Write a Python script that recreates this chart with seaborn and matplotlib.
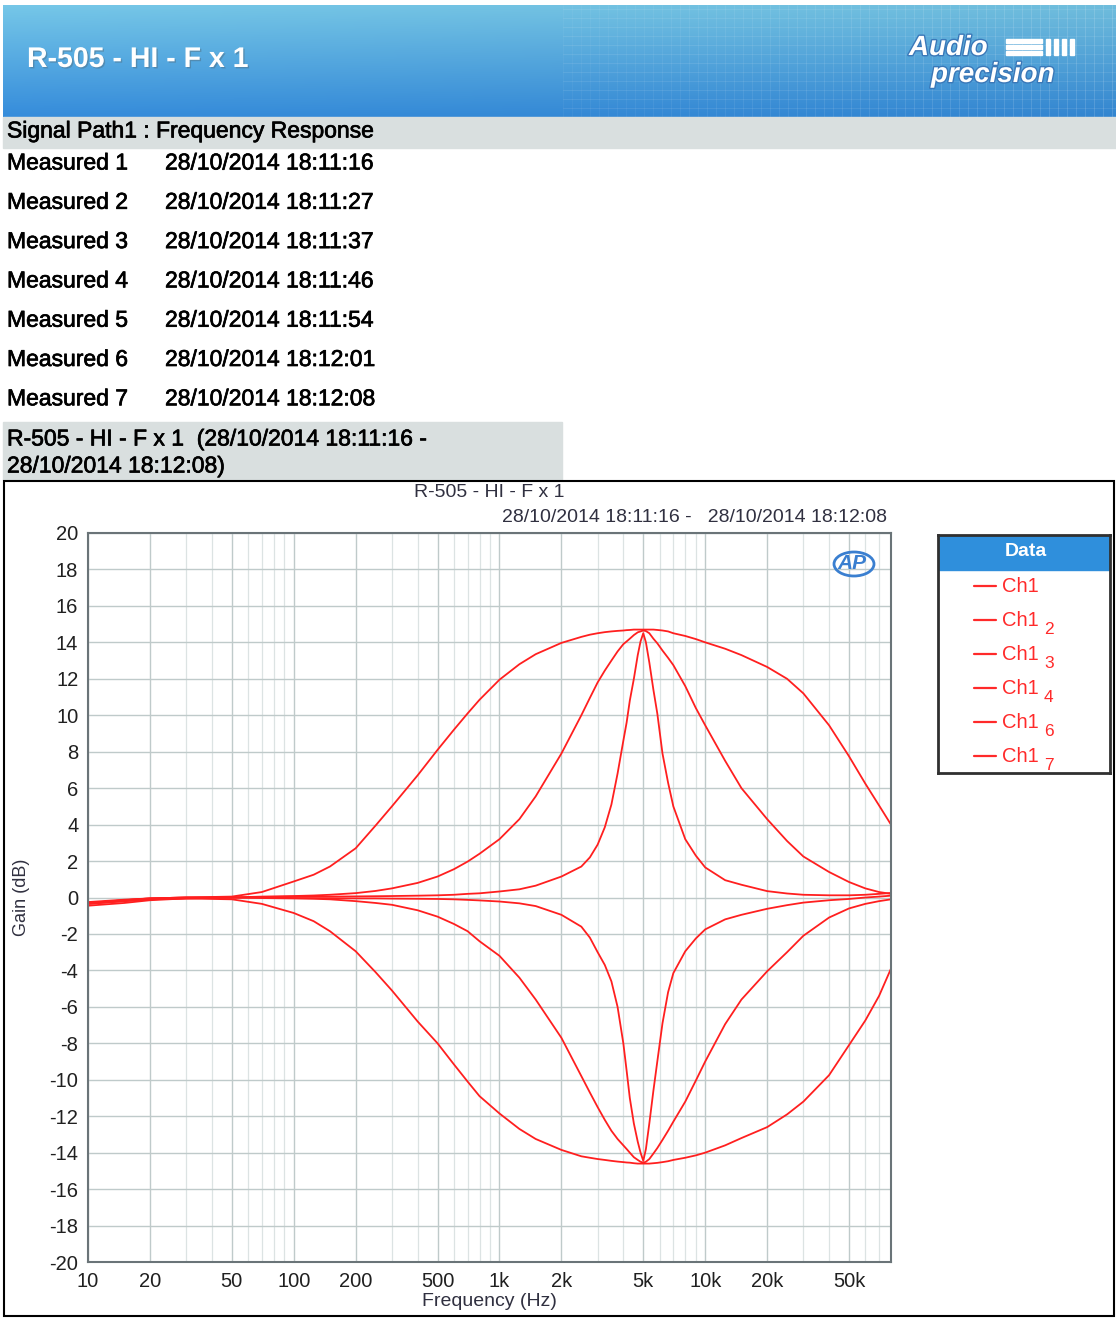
import numpy as np
import pandas as pd
import matplotlib
matplotlib.use('Agg')
import matplotlib.pyplot as plt
import seaborn as sns
from matplotlib import font_manager
from matplotlib.patches import Rectangle, Ellipse
import matplotlib.patheffects as pe

freqs = [10, 15, 20, 30, 50, 70, 100, 125, 150, 200, 250, 300, 400, 500, 600, 700, 800,
         1000, 1250, 1500, 2000, 2500, 2750, 3000, 3250, 3500, 3750, 4000, 4150, 4300,
         4500, 4700, 4850, 5000, 5150, 5350, 5600, 5850, 6200, 6600, 7000, 8000, 9000,
         10000, 12500, 15000, 20000, 25000, 30000, 40000, 50000, 60000, 70000, 80000]

wide_boost = [-0.3, -0.15, -0.05, 0, 0.05, 0.3, 0.88, 1.25, 1.7, 2.7, 3.95, 5.0, 6.7, 8.1, 9.2,
              10.1, 10.85, 11.95, 12.8, 13.35, 13.97, 14.3, 14.42, 14.5, 14.56, 14.6, 14.63,
              14.65, 14.67, 14.68, 14.7, 14.7, 14.7, 14.7, 14.7, 14.7, 14.7, 14.68, 14.65,
              14.6, 14.5, 14.35, 14.18, 14.0, 13.65, 13.3, 12.65, 12.0, 11.2, 9.45, 7.75,
              6.25, 5.05, 4.0]
wide_cut = [-0.35, -0.2, -0.1, -0.05, -0.1, -0.35, -0.85, -1.3, -1.85, -2.95, -4.1, -5.1, -6.8,
            -8.0, -9.15, -10.1, -10.9, -11.85, -12.7, -13.25, -13.85, -14.2, -14.28, -14.35,
            -14.4, -14.45, -14.49, -14.52, -14.54, -14.55, -14.58, -14.6, -14.6, -14.6, -14.6,
            -14.6, -14.58, -14.56, -14.52, -14.47, -14.4, -14.28, -14.15, -14.0, -13.6, -13.2,
            -12.6, -11.9, -11.2, -9.75, -8.1, -6.75, -5.4, -3.9]
mid_boost = [-0.35, -0.2, -0.1, -0.05, 0, 0.05, 0.08, 0.11, 0.15, 0.24, 0.36, 0.5, 0.8, 1.15,
             1.55, 1.97, 2.4, 3.2, 4.3, 5.55, 7.9, 10.0, 10.95, 11.8, 12.45, 13.0, 13.5, 13.9,
             14.05, 14.2, 14.4, 14.55, 14.6, 14.65, 14.62, 14.5, 14.2, 13.95, 13.55, 13.15,
             12.75, 11.6, 10.4, 9.45, 7.5, 6.0, 4.3, 3.1, 2.25, 1.4, 0.85, 0.5, 0.3, 0.2]
mid_cut = [-0.45, -0.3, -0.15, -0.05, 0, -0.03, -0.05, -0.07, -0.1, -0.2, -0.3, -0.4, -0.7,
           -1.05, -1.45, -1.85, -2.4, -3.2, -4.4, -5.6, -7.7, -9.8, -10.7, -11.5, -12.2, -12.8,
           -13.25, -13.6, -13.8, -14.0, -14.25, -14.4, -14.5, -14.55, -14.5, -14.35, -14.05,
           -13.75, -13.3, -12.8, -12.3, -11.2, -10.05, -9.0, -6.95, -5.6, -4.05, -3.0, -2.1,
           -1.1, -0.6, -0.35, -0.2, -0.1]
narrow_boost = [-0.25, -0.12, -0.05, 0, 0, 0.02, 0.05, 0.05, 0.05, 0.06, 0.07, 0.08, 0.1, 0.12,
                0.15, 0.2, 0.23, 0.33, 0.45, 0.65, 1.15, 1.7, 2.2, 2.9, 3.85, 5.1, 6.8, 8.6,
                9.6, 10.8, 12.0, 13.3, 14.05, 14.5, 14.0, 12.9, 11.4, 10.1, 7.9, 6.3, 5.0, 3.2,
                2.3, 1.65, 0.95, 0.7, 0.35, 0.22, 0.15, 0.12, 0.12, 0.15, 0.2, 0.25]
narrow_cut = [-0.3, -0.15, -0.05, 0, 0, 0, -0.03, -0.035, -0.04, -0.05, -0.05, -0.06, -0.07,
              -0.08, -0.1, -0.13, -0.16, -0.22, -0.32, -0.47, -0.95, -1.6, -2.2, -3.0, -3.7,
              -4.6, -6.0, -8.0, -9.5, -11.0, -12.4, -13.4, -14.0, -14.45, -13.8, -12.4, -10.6,
              -9.0, -6.9, -5.2, -4.15, -2.95, -2.25, -1.75, -1.2, -0.95, -0.62, -0.42, -0.28,
              -0.15, -0.08, 0, 0.05, 0.1]

channels = ['Ch1', 'Ch1 2', 'Ch1 3', 'Ch1 4', 'Ch1 6', 'Ch1 7']
series = [wide_boost, wide_cut, mid_boost, mid_cut, narrow_boost, narrow_cut]

xtick_vals = [10, 20, 50, 100, 200, 500, 1000, 2000, 5000, 10000, 20000, 50000]
xtick_labels = ['10', '20', '50', '100', '200', '500', '1k', '2k', '5k', '10k', '20k', '50k']
ytick_vals = list(range(-20, 21, 2))

measured_times = ['28/10/2014 18:11:16', '28/10/2014 18:11:27', '28/10/2014 18:11:37',
                  '28/10/2014 18:11:46', '28/10/2014 18:11:54', '28/10/2014 18:12:01',
                  '28/10/2014 18:12:08']

df = pd.DataFrame({
    'freq': freqs * len(series),
    'gain': sum(series, []),
    'channel': np.repeat(channels, len(freqs)),
})

sns.set_style('white')
names = {f.name for f in font_manager.fontManager.ttflist}
NARROW = 'Liberation Sans Narrow' if 'Liberation Sans Narrow' in names else 'Liberation Sans'
plt.rcParams['font.family'] = ['Liberation Sans', 'DejaVu Sans']
plt.rcParams['text.color'] = 'black'

W, H = 1116, 1318
fig = plt.figure(figsize=(W / 100, H / 100), dpi=100)


def fx(x):
    return x / W


def fy(y):
    return 1 - y / H


bold_fx = [pe.withStroke(linewidth=0.5, foreground='black')]

# header banner
ban = fig.add_axes([fx(3), fy(117), fx(1113), 112 / H])
gx = np.linspace(0, 1, 300)
gy = np.linspace(0, 1, 60)[:, None]
top = np.array([0.46, 0.78, 0.91])
bot = np.array([0.21, 0.55, 0.86])
img = top[None, None, :] * (1 - gy[..., None]) + bot[None, None, :] * gy[..., None]
img = img * (1 - 0.05 * gx[None, :, None])
ban.imshow(np.clip(img, 0, 1), aspect='auto', extent=[0, 1113, 112, 0])
for x in np.arange(560, 1113, 9):
    ban.axvline(x, color='white', lw=0.6, alpha=0.05 + 0.12 * (x - 560) / 553)
for y in np.arange(4, 112, 9):
    ban.plot([560, 1113], [y, y], color='white', lw=0.6, alpha=0.1)
ban.set_xlim(0, 1113)
ban.set_ylim(112, 0)
ban.axis('off')
ban.text(24, 55, 'R-505 - HI - F x 1', color='white', fontsize=20.5, fontweight='bold',
         family=NARROW, va='center', ha='left',
         path_effects=[pe.withSimplePatchShadow(offset=(1, -1), alpha=0.3)])
ban.text(906, 43, 'Audio', color='white', fontsize=20, fontweight='bold', style='italic',
         family=NARROW, va='center', ha='left',
         path_effects=[pe.withStroke(linewidth=2, foreground='#3a78b8')])
ban.text(928, 70, 'precision', color='white', fontsize=20, fontweight='bold', style='italic',
         family=NARROW, va='center', ha='left',
         path_effects=[pe.withStroke(linewidth=2, foreground='#3a78b8')])
for yy in [34, 40, 46]:
    ban.add_patch(Rectangle((1003, yy), 36, 4, color='white'))
for xx in [1043, 1051, 1059, 1067]:
    ban.add_patch(Rectangle((xx, 34), 4, 16, color='white'))

# section bars
fig.patches.append(Rectangle((fx(3), fy(148)), fx(1113), 31 / H, transform=fig.transFigure,
                             color='#d9dfdf', zorder=0))
fig.text(fx(7), fy(131), 'Signal Path1 : Frequency Response', fontsize=16.5, va='center',
         ha='left', path_effects=bold_fx)
for i, t in enumerate(measured_times):
    yy = 163 + i * 39.3
    fig.text(fx(7), fy(yy), 'Measured %d' % (i + 1), fontsize=16.5, va='center', ha='left',
             path_effects=bold_fx)
    fig.text(fx(165), fy(yy), t, fontsize=16.5, va='center', ha='left', path_effects=bold_fx)

fig.patches.append(Rectangle((fx(3), fy(480)), fx(559), 58 / H, transform=fig.transFigure,
                             color='#d9dfdf', zorder=0))
fig.text(fx(7), fy(439), 'R-505 - HI - F x 1  (28/10/2014 18:11:16 -', fontsize=16.5,
         va='center', ha='left', path_effects=bold_fx)
fig.text(fx(7), fy(466), '28/10/2014 18:12:08)', fontsize=16.5, va='center', ha='left',
         path_effects=bold_fx)

# graph frame
fig.patches.append(Rectangle((fx(4), fy(1316)), fx(1110), 835 / H, transform=fig.transFigure,
                             fill=False, ec='black', lw=1.5, zorder=1))
fig.text(fx(489), fy(493), 'R-505 - HI - F x 1', fontsize=14, family=NARROW, color='#303040',
         ha='center', va='center')
fig.text(fx(887), fy(518), '28/10/2014 18:11:16 -   28/10/2014 18:12:08', fontsize=14,
         family=NARROW, color='#303040', ha='right', va='center')

ax = fig.add_axes([fx(88), fy(1262), (891 - 88) / W, (1262 - 533) / H])
sns.lineplot(data=df, x='freq', y='gain', hue='channel', palette=['#ff1f1f'] * 6,
             estimator=None, legend=False, linewidth=1.3, ax=ax)
ax.set_xscale('log')
ax.set_xlim(10, 80000)
ax.set_ylim(-20, 20)
minor = [m * 10 ** e for e in range(1, 5) for m in range(1, 10)
         if m * 10 ** e not in xtick_vals and m * 10 ** e < 80000]
ax.set_xticks(xtick_vals)
ax.set_xticklabels(xtick_labels)
ax.set_xticks(minor, minor=True)
ax.set_yticks(ytick_vals)
ax.set_yticklabels([str(v) for v in ytick_vals])
ax.grid(True, which='major', color='#bfcaca', lw=1.0)
ax.grid(True, which='minor', axis='x', color='#dce3e3', lw=0.9)
ax.tick_params(which='both', length=0, labelsize=14.5, colors='#202020', pad=7)
for lab in ax.get_xticklabels() + ax.get_yticklabels():
    lab.set_family(NARROW)
for s in ax.spines.values():
    s.set_color('#6a7478')
    s.set_linewidth(1.5)
ax.set_xlabel('Frequency (Hz)', fontsize=14, family=NARROW, color='#303040', labelpad=2)
ax.set_ylabel('Gain (dB)', fontsize=13, family=NARROW, color='#303040', labelpad=14)

# AP logo
fig.text(fx(852), fy(563), 'AP', fontsize=15, fontweight='bold', style='italic',
         color='#3a7fd0', ha='center', va='center')
fig.add_artist(Ellipse((fx(854), fy(564)), 40 / W, 24 / H, transform=fig.transFigure,
                       fill=False, ec='#3a7fd0', lw=2))

# legend box
lg = fig.add_axes([fx(938), fy(773), (1110 - 938) / W, (773 - 535) / H])
lg.set_xlim(938, 1110)
lg.set_ylim(773, 535)
lg.add_patch(Rectangle((939, 536), 170, 34, color='#2f8fdc'))
lg.text(1026, 552, 'Data', color='white', fontsize=14, fontweight='bold', ha='center', va='center')
for i, ch in enumerate(channels):
    yy = 586 + i * 34
    lg.plot([974, 996], [yy, yy], color='#ff2a2a', lw=1.6)
    lg.text(1002, yy, 'Ch1', color='#ff2a2a', fontsize=14.5, ha='left', va='center')
    if i > 0:
        lg.text(1044, yy + 9, ch.split()[1], color='#ff2a2a', fontsize=12.5, ha='left', va='center')
lg.set_xticks([])
lg.set_yticks([])
for s in lg.spines.values():
    s.set_color('#303030')
    s.set_linewidth(2)

fig.savefig('out.png', dpi=100)
